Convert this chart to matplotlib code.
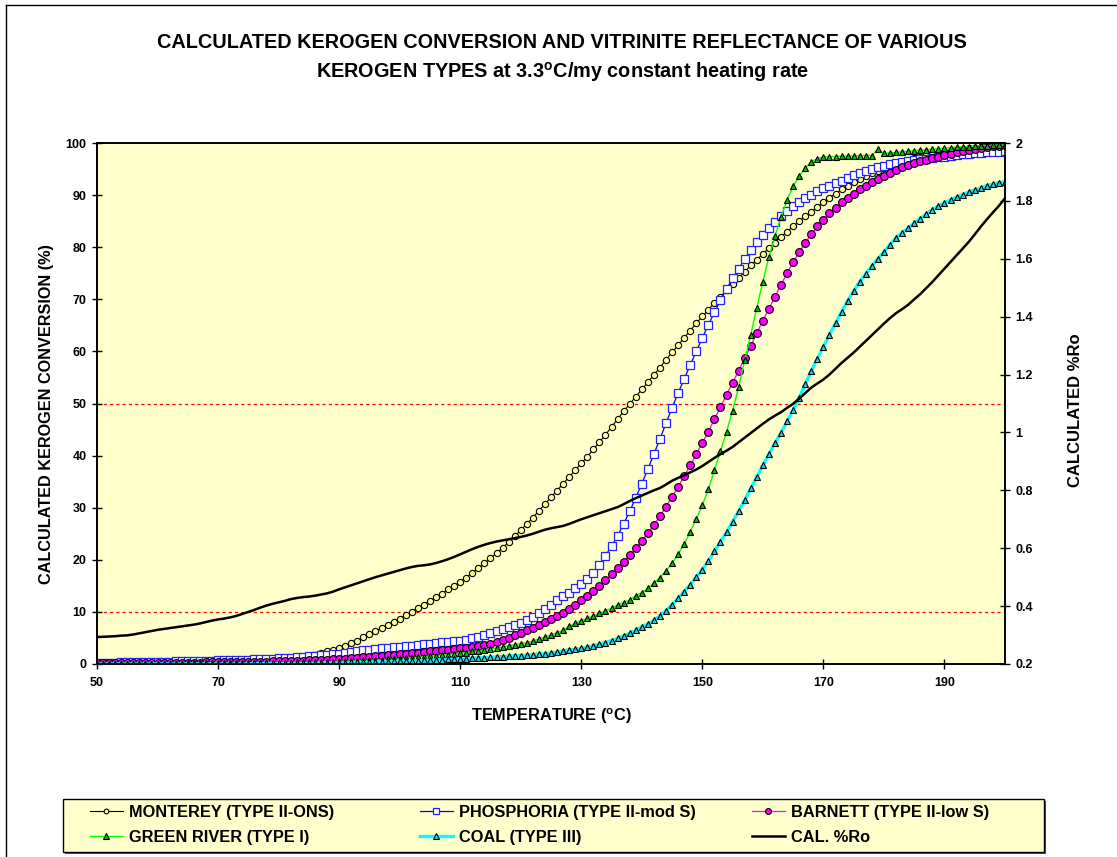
import matplotlib
matplotlib.use('Agg')
import matplotlib.pyplot as plt
from matplotlib.lines import Line2D
from matplotlib.patches import Rectangle
from matplotlib.ticker import FuncFormatter

plt.rcParams['font.family'] = ['Liberation Sans', 'DejaVu Sans']
plt.rcParams['font.weight'] = 'bold'
plt.rcParams['mathtext.fontset'] = 'custom'
plt.rcParams['mathtext.rm'] = 'Liberation Sans:bold'
plt.rcParams['mathtext.bf'] = 'Liberation Sans:bold'
plt.rcParams['mathtext.it'] = 'Liberation Sans:bold'

# ---------------- data ----------------
temperature = list(range(50, 201))

monterey = [
    0.0, 0.0, 0.0, 0.0, 0.1, 0.1, 0.1, 0.1, 0.1, 0.1,
    0.1, 0.1, 0.1, 0.2, 0.2, 0.2, 0.2, 0.2, 0.3, 0.3,
    0.3, 0.3, 0.3, 0.4, 0.4, 0.4, 0.5, 0.5, 0.6, 0.7,
    0.8, 0.9, 1.0, 1.2, 1.4, 1.6, 1.8, 2.1, 2.4, 2.7,
    3.1, 3.5, 4.0, 4.5, 5.1, 5.7, 6.3, 6.9, 7.5, 8.1,
    8.7, 9.4, 10.0, 10.7, 11.4, 12.1, 12.8, 13.5, 14.3, 15.0,
    15.8, 16.6, 17.5, 18.4, 19.3, 20.3, 21.3, 22.3, 23.4, 24.5,
    25.7, 26.9, 28.1, 29.4, 30.7, 32.0, 33.3, 34.6, 35.9, 37.2,
    38.5, 39.8, 41.2, 42.6, 44.0, 45.5, 47.0, 48.5, 49.9, 51.3,
    52.7, 54.1, 55.5, 56.9, 58.4, 59.8, 61.2, 62.6, 64.0, 65.4,
    66.7, 68.0, 69.3, 70.5, 71.7, 72.9, 74.1, 75.3, 76.5, 77.6,
    78.7, 79.8, 80.9, 82.0, 83.0, 84.0, 85.0, 85.9, 86.8, 87.7,
    88.6, 89.5, 90.3, 91.1, 91.8, 92.5, 93.1, 93.7, 94.2, 94.7,
    95.2, 95.6, 96.0, 96.4, 96.8, 97.1, 97.4, 97.7, 97.9, 98.1,
    98.3, 98.5, 98.7, 98.9, 99.0, 99.1, 99.2, 99.3, 99.4, 99.5,
    99.6]

phosphoria = [
    0.2, 0.2, 0.2, 0.2, 0.3, 0.3, 0.3, 0.3, 0.3, 0.4,
    0.4, 0.4, 0.4, 0.5, 0.5, 0.5, 0.5, 0.6, 0.6, 0.6,
    0.7, 0.7, 0.7, 0.8, 0.8, 0.8, 0.9, 0.9, 1.0, 1.0,
    1.1, 1.1, 1.2, 1.3, 1.4, 1.5, 1.6, 1.7, 1.8, 1.9,
    2.0, 2.1, 2.3, 2.4, 2.6, 2.7, 2.9, 3.0, 3.1, 3.2,
    3.3, 3.4, 3.5, 3.7, 3.8, 3.9, 4.0, 4.2, 4.3, 4.4,
    4.5, 4.7, 4.9, 5.2, 5.5, 5.9, 6.3, 6.7, 7.1, 7.5,
    7.9, 8.5, 9.1, 9.8, 10.5, 11.3, 12.2, 13.0, 13.7, 14.5,
    15.3, 16.3, 17.5, 19.0, 20.8, 22.6, 24.6, 26.9, 29.3, 31.9,
    34.6, 37.4, 40.3, 43.2, 46.2, 49.2, 52.0, 54.7, 57.4, 60.0,
    62.6, 65.1, 67.5, 69.8, 72.0, 74.0, 75.9, 77.7, 79.4, 81.0,
    82.4, 83.7, 84.9, 86.0, 87.0, 87.9, 88.7, 89.4, 90.1, 90.7,
    91.3, 91.8, 92.3, 92.8, 93.3, 93.8, 94.2, 94.6, 95.0, 95.3,
    95.6, 95.9, 96.1, 96.3, 96.5, 96.7, 96.9, 97.0, 97.1, 97.3,
    97.4, 97.5, 97.7, 97.8, 97.9, 98.0, 98.1, 98.2, 98.3, 98.3,
    98.4]

barnett = [
    0.1, 0.1, 0.1, 0.1, 0.1, 0.1, 0.1, 0.1, 0.1, 0.2,
    0.2, 0.2, 0.2, 0.2, 0.2, 0.2, 0.2, 0.2, 0.3, 0.3,
    0.3, 0.3, 0.3, 0.3, 0.3, 0.4, 0.4, 0.4, 0.4, 0.5,
    0.5, 0.5, 0.6, 0.6, 0.6, 0.7, 0.7, 0.8, 0.8, 0.9,
    1.0, 1.0, 1.1, 1.2, 1.3, 1.4, 1.5, 1.6, 1.7, 1.8,
    1.9, 2.0, 2.1, 2.2, 2.3, 2.4, 2.5, 2.6, 2.7, 2.8,
    3.0, 3.1, 3.3, 3.5, 3.7, 3.9, 4.2, 4.6, 5.0, 5.5,
    6.0, 6.5, 7.0, 7.5, 8.1, 8.7, 9.2, 9.8, 10.5, 11.3,
    12.2, 13.1, 14.0, 15.0, 16.1, 17.2, 18.4, 19.6, 20.9, 22.2,
    23.6, 25.1, 26.7, 28.4, 30.2, 32.1, 34.0, 36.0, 38.1, 40.3,
    42.4, 44.6, 47.0, 49.3, 51.7, 54.0, 56.3, 58.7, 61.1, 63.5,
    65.9, 68.2, 70.5, 72.8, 75.0, 77.1, 79.0, 80.8, 82.5, 84.0,
    85.3, 86.5, 87.6, 88.6, 89.5, 90.3, 91.1, 91.8, 92.5, 93.1,
    93.7, 94.3, 94.8, 95.3, 95.7, 96.1, 96.5, 96.8, 97.1, 97.4,
    97.7, 97.9, 98.2, 98.4, 98.6, 98.8, 99.0, 99.2, 99.4, 99.5,
    99.7]

green_river = [
    0.0, 0.0, 0.0, 0.0, 0.0, 0.0, 0.0, 0.0, 0.0, 0.0,
    0.0, 0.0, 0.0, 0.0, 0.0, 0.1, 0.1, 0.1, 0.1, 0.1,
    0.1, 0.1, 0.1, 0.1, 0.1, 0.1, 0.1, 0.2, 0.2, 0.2,
    0.2, 0.2, 0.2, 0.3, 0.3, 0.3, 0.3, 0.4, 0.4, 0.4,
    0.5, 0.5, 0.6, 0.6, 0.7, 0.7, 0.8, 0.8, 0.9, 0.9,
    1.0, 1.1, 1.2, 1.3, 1.4, 1.5, 1.6, 1.7, 1.8, 2.0,
    2.1, 2.2, 2.4, 2.5, 2.7, 2.9, 3.1, 3.3, 3.5, 3.7,
    3.9, 4.1, 4.4, 4.8, 5.2, 5.6, 6.0, 6.5, 7.2, 7.8,
    8.3, 8.8, 9.2, 9.7, 10.2, 10.7, 11.3, 11.8, 12.3, 13.1,
    13.7, 14.5, 15.5, 16.6, 17.9, 19.3, 21.1, 23.0, 25.4, 27.8,
    30.5, 33.5, 37.2, 40.9, 44.6, 48.6, 53.2, 58.3, 63.2, 68.4,
    73.4, 78.1, 82.1, 85.8, 89.0, 91.7, 93.6, 95.2, 96.4, 97.0,
    97.3, 97.4, 97.4, 97.5, 97.5, 97.5, 97.6, 97.6, 97.6, 98.8,
    98.0, 98.1, 98.2, 98.3, 98.4, 98.5, 98.6, 98.7, 98.8, 98.9,
    99.0, 99.1, 99.2, 99.3, 99.3, 99.4, 99.5, 99.5, 99.6, 99.6,
    99.7]

coal = [
    0.0, 0.0, 0.0, 0.0, 0.0, 0.0, 0.0, 0.0, 0.0, 0.0,
    0.0, 0.0, 0.0, 0.0, 0.0, 0.0, 0.0, 0.0, 0.0, 0.0,
    0.0, 0.0, 0.0, 0.0, 0.0, 0.0, 0.1, 0.1, 0.1, 0.1,
    0.1, 0.1, 0.1, 0.1, 0.1, 0.1, 0.1, 0.2, 0.2, 0.2,
    0.2, 0.2, 0.3, 0.3, 0.3, 0.3, 0.4, 0.4, 0.4, 0.5,
    0.5, 0.5, 0.6, 0.6, 0.7, 0.7, 0.8, 0.8, 0.9, 0.9,
    1.0, 1.0, 1.1, 1.2, 1.2, 1.3, 1.4, 1.4, 1.5, 1.6,
    1.6, 1.7, 1.8, 1.9, 2.0, 2.1, 2.3, 2.5, 2.7, 2.8,
    3.0, 3.2, 3.5, 3.8, 4.1, 4.5, 4.9, 5.4, 5.9, 6.5,
    7.1, 7.7, 8.4, 9.3, 10.2, 11.4, 12.6, 13.9, 15.2, 16.7,
    18.1, 19.8, 21.6, 23.5, 25.3, 27.3, 29.4, 31.5, 33.7, 35.9,
    38.1, 40.3, 42.4, 44.4, 46.6, 48.8, 51.1, 53.7, 56.3, 58.6,
    60.9, 63.2, 65.4, 67.6, 69.7, 71.6, 73.4, 74.9, 76.4, 77.8,
    79.1, 80.5, 81.8, 82.8, 83.7, 84.6, 85.5, 86.4, 87.2, 87.9,
    88.5, 89.1, 89.6, 90.1, 90.6, 91.0, 91.4, 91.8, 92.1, 92.4,
    92.6]

cal_ro = [
    0.293, 0.294, 0.295, 0.296, 0.298, 0.299, 0.302, 0.306, 0.310, 0.314,
    0.318, 0.321, 0.324, 0.327, 0.330, 0.333, 0.336, 0.340, 0.345, 0.350,
    0.354, 0.357, 0.361, 0.366, 0.373, 0.380, 0.387, 0.395, 0.402, 0.408,
    0.413, 0.418, 0.424, 0.428, 0.431, 0.433, 0.436, 0.440, 0.444, 0.450,
    0.458, 0.465, 0.472, 0.479, 0.486, 0.493, 0.500, 0.506, 0.512, 0.518,
    0.524, 0.530, 0.535, 0.539, 0.541, 0.544, 0.549, 0.555, 0.562, 0.570,
    0.579, 0.588, 0.597, 0.605, 0.612, 0.618, 0.623, 0.627, 0.631, 0.635,
    0.639, 0.644, 0.650, 0.657, 0.664, 0.669, 0.673, 0.677, 0.684, 0.692,
    0.700, 0.707, 0.714, 0.721, 0.728, 0.735, 0.742, 0.752, 0.763, 0.773,
    0.782, 0.791, 0.800, 0.808, 0.820, 0.833, 0.843, 0.852, 0.862, 0.872,
    0.884, 0.898, 0.912, 0.925, 0.937, 0.950, 0.966, 0.982, 0.998, 1.014,
    1.030, 1.045, 1.058, 1.070, 1.085, 1.099, 1.117, 1.136, 1.155, 1.169,
    1.183, 1.200, 1.220, 1.240, 1.258, 1.276, 1.296, 1.316, 1.336, 1.356,
    1.376, 1.395, 1.412, 1.426, 1.441, 1.460, 1.478, 1.499, 1.520, 1.543,
    1.566, 1.589, 1.612, 1.635, 1.658, 1.684, 1.711, 1.736, 1.760, 1.783,
    1.809]

x_ticks = [50, 70, 90, 110, 130, 150, 170, 190]
left_ticks = [0, 10, 20, 30, 40, 50, 60, 70, 80, 90, 100]
right_ticks = [0.2, 0.4, 0.6, 0.8, 1.0, 1.2, 1.4, 1.6, 1.8, 2.0]
reference_levels = [10, 50]

labels = ["MONTEREY (TYPE II-ONS)", "PHOSPHORIA (TYPE II-mod S)",
          "BARNETT (TYPE II-low S)", "GREEN RIVER (TYPE I)",
          "COAL (TYPE III)", "CAL. %Ro"]

# ---------------- figure ----------------
W, H = 1117, 857
fig = plt.figure(figsize=(W / 100, H / 100), dpi=100)
fig.patch.set_facecolor('white')

def fx(px):
    return px / W

def fy(py):
    return 1 - py / H

ax = fig.add_axes([fx(97), fy(664), fx(1005) - fx(97), fy(143) - fy(664)])
ax.set_facecolor('#FFFFCC')
ax2 = ax.twinx()

for lvl in reference_levels:
    ax.axhline(lvl, color='#FF0000', lw=0.9, ls=(0, (2.5, 2.5)), zorder=1)

styles = [
    dict(color='black', lw=0.8, marker='o', ms=4.5, mfc='#FFFF99', mec='black', mew=0.8),
    dict(color='#0000FF', lw=0.9, marker='s', ms=5.8, mfc='white', mec='#2222FF', mew=0.9),
    dict(color='#FF00FF', lw=0.9, marker='o', ms=5.6, mfc='#FF00FF', mec='black', mew=0.8),
    dict(color='#00FF00', lw=1.0, marker='^', ms=5.0, mfc='#00BB00', mec='black', mew=0.8),
    dict(color='#00FFFF', lw=2.4, marker='^', ms=5.0, mfc='#22CCEE', mec='black', mew=0.8),
]
series = [monterey, phosphoria, barnett, green_river, coal]
handles = []
for vals, st, lab in zip(series, styles, labels[:5]):
    ln, = ax.plot(temperature, vals, label=lab, zorder=3, **st)
    handles.append(ln)

ro_line, = ax2.plot(temperature, cal_ro, color='black', lw=1.8, label=labels[5], zorder=4)
handles.append(ro_line)

ax.set_xlim(50, 200)
ax.set_ylim(0, 100)
ax2.set_ylim(0.2, 2.0)
ax.set_xticks(x_ticks)
ax.set_yticks(left_ticks)
ax2.set_yticks(right_ticks)
ax2.yaxis.set_major_formatter(FuncFormatter(lambda v, p: '%g' % round(v, 1)))

for a in (ax, ax2):
    a.tick_params(direction='inout', length=7, width=1.0, labelsize=9, pad=4)
    for s in a.spines.values():
        s.set_linewidth(1.2)
        s.set_color('black')
for lab in ax.get_xticklabels() + ax.get_yticklabels() + ax2.get_yticklabels():
    lab.set_fontweight('bold')
ax.tick_params(axis='x', pad=6)

# ---------------- texts ----------------
fig.text(fx(562), fy(42), 'CALCULATED KEROGEN CONVERSION AND VITRINITE REFLECTANCE OF VARIOUS',
         ha='center', va='center', fontsize=14.3, fontweight='bold')
fig.text(fx(563), fy(72), 'KEROGEN TYPES at 3.3$^{\\mathrm{o}}$C/my constant heating rate',
         ha='center', va='center', fontsize=14.3, fontweight='bold')
fig.text(fx(47), fy(414), 'CALCULATED KEROGEN CONVERSION (%)', rotation=90,
         ha='center', va='center', fontsize=11.7, fontweight='bold')
fig.text(fx(1076), fy(410), 'CALCULATED %Ro', rotation=90,
         ha='center', va='center', fontsize=12, fontweight='bold')
fig.text(fx(551), fy(716), 'TEMPERATURE ($^{\\mathrm{o}}$C)',
         ha='center', va='center', fontsize=11.8, fontweight='bold')

# ---------------- legend ----------------
shadow = Rectangle((fx(65), fy(854)), fx(1046) - fx(65), fy(801) - fy(854),
                   transform=fig.transFigure, fc='#555555', ec='none', zorder=0)
box = Rectangle((fx(63), fy(852)), fx(1044) - fx(63), fy(799) - fy(852),
                transform=fig.transFigure, fc='#FFFFCC', ec='black', lw=1.0, zorder=1)
fig.patches.extend([shadow, box])

col_x = [90, 420, 752]
col_items = [[0, 3], [1, 4], [2, 5]]
for cx, idxs in zip(col_x, col_items):
    leg = fig.legend(handles=[handles[i] for i in idxs], labels=[labels[i] for i in idxs],
                     loc='upper left', bbox_to_anchor=(fx(cx), fy(805)),
                     frameon=False, fontsize=11.8, handlelength=2.0, handletextpad=0.35,
                     labelspacing=0.62, borderpad=0, borderaxespad=0, markerscale=0.75)
    for t in leg.get_texts():
        t.set_fontweight('bold')

# ---------------- outer border ----------------
fig.lines.extend([
    Line2D([fx(6), fx(6)], [fy(5), 0], transform=fig.transFigure, color='black', lw=1.0),
    Line2D([fx(6), 1], [fy(5), fy(5)], transform=fig.transFigure, color='black', lw=1.0),
])

fig.savefig('out.png', dpi=100)
